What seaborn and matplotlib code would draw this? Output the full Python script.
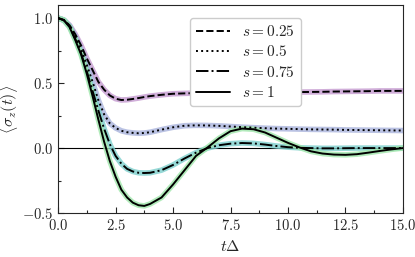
import numpy as np
import matplotlib
matplotlib.use("Agg")
import matplotlib.pyplot as plt
from matplotlib.ticker import MultipleLocator, FuncFormatter
import seaborn as sns

# values
t = [0.0, 0.25, 0.5, 0.75, 1.0, 1.25, 1.5, 1.75, 2.0, 2.25, 2.5, 2.75, 3.0,
     3.25, 3.5, 3.75, 4.0, 4.5, 5.0, 5.5, 6.0, 6.5, 7.0, 7.5, 8.0, 8.5, 9.0,
     9.5, 10.0, 10.5, 11.0, 11.5, 12.0, 12.5, 13.0, 13.5, 14.0, 14.5, 15.0]

s025 = [1.0, 0.985, 0.945, 0.875, 0.79, 0.69, 0.60, 0.51, 0.45, 0.405, 0.38,
        0.37, 0.372, 0.378, 0.385, 0.393, 0.40, 0.41, 0.418, 0.421, 0.423,
        0.424, 0.425, 0.426, 0.427, 0.428, 0.429, 0.43, 0.43, 0.431, 0.432,
        0.433, 0.435, 0.436, 0.437, 0.438, 0.44, 0.44, 0.44]

s050 = [1.0, 0.985, 0.94, 0.86, 0.76, 0.64, 0.51, 0.37, 0.26, 0.19, 0.155,
        0.133, 0.122, 0.117, 0.114, 0.116, 0.122, 0.142, 0.16, 0.172, 0.175,
        0.174, 0.171, 0.166, 0.161, 0.157, 0.153, 0.15, 0.148, 0.146, 0.144,
        0.143, 0.142, 0.14, 0.139, 0.138, 0.137, 0.136, 0.135]

s075 = [1.0, 0.985, 0.935, 0.84, 0.73, 0.59, 0.44, 0.29, 0.15, 0.03, -0.06,
        -0.12, -0.16, -0.18, -0.19, -0.192, -0.19, -0.17, -0.13, -0.08, -0.035,
        0.0, 0.022, 0.034, 0.039, 0.036, 0.027, 0.016, 0.007, 0.002, 0.0,
        -0.002, -0.002, -0.001, 0.0, 0.0, 0.0, 0.0, 0.0]

s100 = [1.0, 0.985, 0.93, 0.83, 0.72, 0.57, 0.40, 0.22, 0.05, -0.10, -0.22,
        -0.32, -0.38, -0.42, -0.44, -0.445, -0.43, -0.38, -0.28, -0.17, -0.06,
        0.005, 0.075, 0.13, 0.15, 0.145, 0.12, 0.08, 0.04, 0.005, -0.025,
        -0.042, -0.05, -0.052, -0.047, -0.035, -0.022, -0.01, 0.0]

labels = ["$s=0.25$", "$s=0.5$", "$s=0.75$", "$s=1$"]
styles = ["--", ":", "-.", "-"]
bands = ["#c59ad0", "#a9b3dc", "#7ccfcc", "#9fe6aa"]

sns.set_style("ticks")
plt.rcParams["font.family"] = ["DejaVu Serif"]
plt.rcParams["mathtext.fontset"] = "cm"
plt.rcParams["font.size"] = 11

fig = plt.figure(figsize=(4.15, 2.57), dpi=100)
ax = fig.add_axes([0.140, 0.171, 0.831, 0.809])

ax.axhline(0, color="black", lw=0.8, zorder=1)

series = [s025, s050, s075, s100]
for vals, col in zip(series, bands):
    sns.lineplot(x=t, y=vals, ax=ax, color=col, lw=4, alpha=0.8, zorder=2)
for vals, lab, ls in zip(series, labels, styles):
    sns.lineplot(x=t, y=vals, ax=ax, color="black", lw=1.4, linestyle=ls,
                 label=lab, zorder=3)

ax.set_xlim(0, 15)
ax.set_ylim(-0.5, 1.1)
ax.xaxis.set_major_locator(MultipleLocator(2.5))
ax.xaxis.set_minor_locator(MultipleLocator(1.25))
ax.yaxis.set_major_locator(MultipleLocator(0.5))
ax.yaxis.set_minor_locator(MultipleLocator(0.25))
fmt = FuncFormatter(lambda v, p: f"${v:.1f}$")
ax.xaxis.set_major_formatter(fmt)
ax.yaxis.set_major_formatter(fmt)
ax.tick_params(which="both", direction="in", labelsize=10.5)
ax.tick_params(which="major", length=4, width=0.8)
ax.tick_params(which="minor", length=2.5, width=0.8)
for sp in ax.spines.values():
    sp.set_linewidth(0.8)

ax.set_xlabel(r"$t\Delta$", fontsize=11.5)
ax.set_ylabel(r"$\langle\sigma_z(t)\rangle$", fontsize=11.5)
ax.yaxis.set_label_coords(-0.11, 0.5)

ax.legend(loc="upper left", bbox_to_anchor=(0.36, 0.975), fontsize=11,
          handlelength=2.2, labelspacing=0.35, borderpad=0.4, framealpha=1,
          edgecolor="#cccccc")

fig.savefig("out.png", dpi=100)
